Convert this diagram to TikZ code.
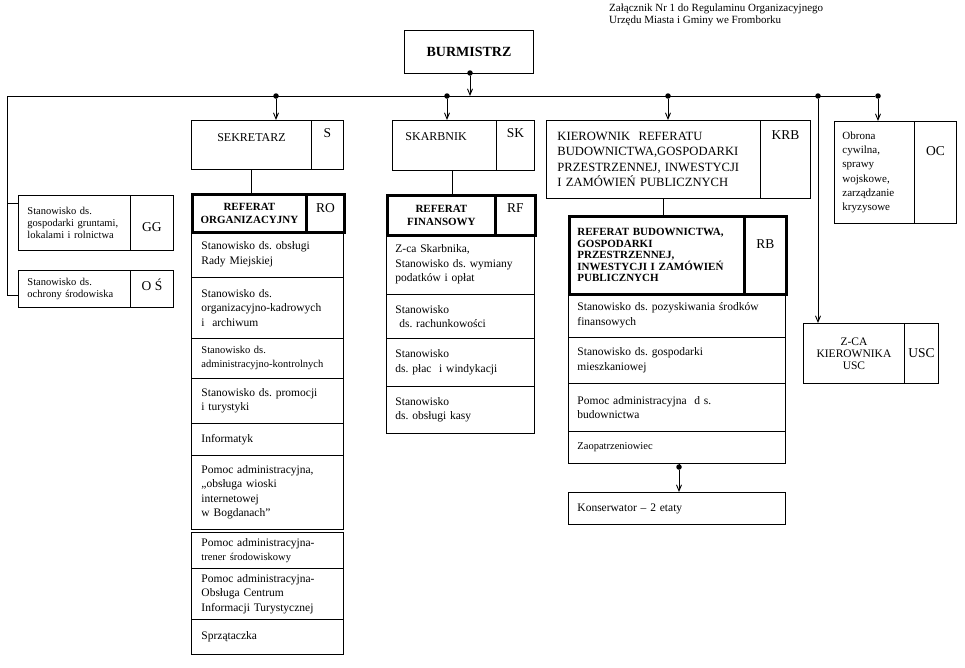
\documentclass[tikz,border=0pt]{standalone}
\usepackage{fontspec}
\setmainfont{Liberation Serif}
\usetikzlibrary{arrows.meta}
\newcommand{\fsz}[2]{\fontsize{#1}{#2}\selectfont}
\frenchspacing

\begin{document}
\begin{tikzpicture}[x=1pt,y=-1pt,
    frame/.style={draw,line width=0.9pt,anchor=north west,inner sep=0pt,align=center},
    code/.style={frame,font=\fsz{13.5}{15}},
    cell/.style={draw,line width=0.9pt,anchor=north west,inner ysep=0pt,align=left,font=\fsz{11.5}{14.5}},
    scell/.style={cell,inner xsep=10pt,text width=132pt},
    fcell/.style={cell,inner xsep=9pt,text width=130pt},
    bcell/.style={cell,inner xsep=9pt,text width=199pt},
    dot/.style={circle,fill,inner sep=0pt,minimum size=5.5pt},
    arr/.style={line width=0.9pt,-{Straight Barb[length=6pt,width=5pt]}},
    link/.style={line width=0.9pt}]
      \fill[white] (0,0) rectangle (965,667);%
      \useasboundingbox (0,0) rectangle (965,667);%

      \node[anchor=north west,inner sep=0pt,align=left,font=\fsz{11}{11.5}] (zal) at (609,4)
      {Załącznik Nr 1 do Regulaminu Organizacyjnego\\Urzędu Miasta i Gminy we Fromborku};%

      \node[frame,minimum width=129pt,minimum height=43pt,font=\bfseries\fsz{14}{16}] (bur) at (404,30) {BURMISTRZ};%

      \node[dot] (db) at (470,73) {};%
      \coordinate (lt) at (7,96);%
      \node[dot] (d1) at (276,96) {};%
      \node[dot] (d2) at (447,96) {};%
      \node[dot] (d3) at (668,96) {};%
      \node[dot] (d4) at (818,96) {};%
      \node[dot] (d5) at (878,96) {};%

      \node[cell,font=\fsz{10.5}{11.7},inner xsep=9pt,text width=94pt,minimum height=55pt] (gg) at (18,195)
      {Stanowisko ds.\\gospodarki gruntami,\\lokalami i rolnictwa};%
      \node[code,minimum width=43pt,minimum height=55pt,text height=36.5pt,text depth=18.5pt] (ggC) at (130,195) {GG};%
      \node[cell,font=\fsz{10.5}{11.7},inner xsep=9pt,text width=94pt,minimum height=37pt] (os) at (18,270)
      {Stanowisko ds.\\ochrony środowiska};%
      \node[code,minimum width=43pt,minimum height=37pt,text height=20.5pt,text depth=16.5pt] (osC) at (130,270) {O Ś};%
      \coordinate (ggIn) at (18,203);%
      \coordinate (osIn) at (18,295);%

      \node[frame,minimum width=120pt,minimum height=49pt,font=\fsz{12}{14},text height=21pt,text depth=28pt] (sek) at (191,120) {SEKRETARZ};%
      \node[code,minimum width=32pt,minimum height=49pt,text height=17.5pt,text depth=31.5pt] (sekC) at (311,120) {S};%
      \node[frame,line width=2.8pt,minimum width=114pt,minimum height=38pt,font=\bfseries\fsz{11}{13}] (ro) at (191,193) {REFERAT\\ORGANIZACYJNY};%
      \node[code,line width=2.8pt,minimum width=38pt,minimum height=38pt,text height=18.5pt,text depth=19.5pt] (roC) at (305,193) {RO};%

      \node[scell,minimum height=46pt] (s1) at (191,231) {Stanowisko ds. obsługi\\Rady Miejskiej};%
      \node[scell,minimum height=61pt] (s2) at (191,277) {Stanowisko ds.\\organizacyjno-kadrowych\\i~~archiwum};%
      \node[scell,minimum height=40pt,font=\fsz{10.5}{14}] (s3) at (191,338) {Stanowisko ds.\\administracyjno-kontrolnych};%
      \node[scell,minimum height=45pt] (s4) at (191,378) {Stanowisko ds. promocji\\i turystyki};%
      \node[scell,minimum height=32pt] (s5) at (191,423) {Informatyk};%
      \node[scell,minimum height=74pt] (s6) at (191,455) {Pomoc administracyjna,\\„obsługa wioski\\internetowej\\w Bogdanach”};%
      \node[scell,minimum height=36pt] (s7) at (191,532) {Pomoc administracyjna-\\{\fsz{10.5}{12}trener środowiskowy}};%
      \node[scell,minimum height=51pt] (s8) at (191,568) {Pomoc administracyjna-\\Obsługa Centrum\\Informacji Turystycznej};%
      \node[scell,minimum height=35pt] (s9) at (191,619) {Sprzątaczka};%

      \node[frame,minimum width=104pt,minimum height=50pt,font=\fsz{12}{14},align=left,inner xsep=13pt,text width=78pt,text height=20pt,text depth=30pt] (skb) at (392,120) {SKARBNIK};%
      \node[code,minimum width=38pt,minimum height=50pt,text height=17.5pt,text depth=32.5pt] (skbC) at (496,120) {SK};%
      \node[frame,line width=2.8pt,minimum width=108pt,minimum height=40pt,font=\bfseries\fsz{11}{13}] (rf) at (386,194) {REFERAT\\FINANSOWY};%
      \node[code,line width=2.8pt,minimum width=40pt,minimum height=40pt,text height=17.5pt,text depth=22.5pt] (rfC) at (494,194) {RF};%
      \coordinate (skbOut) at (452,170);%

      \node[fcell,minimum height=60pt] (f1) at (386,234) {Z-ca Skarbnika,\\Stanowisko ds. wymiany\\podatków i opłat};%
      \node[fcell,minimum height=44pt] (f2) at (386,294) {Stanowisko\\~ds. rachunkowości};%
      \node[fcell,minimum height=48pt] (f3) at (386,338) {Stanowisko\\ds. płac~~i windykacji};%
      \node[fcell,minimum height=47pt] (f4) at (386,386) {Stanowisko\\ds. obsługi kasy};%

      \node[frame,minimum width=214pt,minimum height=78pt,font=\fsz{12.6}{15.5},align=left,inner xsep=11pt,text width=192pt] (krb) at (546,120)
      {KIEROWNIK~~REFERATU\\BUDOWNICTWA,GOSPODARKI\\PRZESTRZENNEJ, INWESTYCJI\\I ZAMÓWIEŃ PUBLICZNYCH};%
      \node[code,minimum width=50pt,minimum height=78pt,text height=19.5pt,text depth=58.5pt] (krbC) at (760,120) {KRB};%
      \node[frame,line width=2.8pt,minimum width=175pt,minimum height=78pt,font=\bfseries\fsz{11}{11.5},align=left,inner xsep=8pt,text width=159pt] (rb) at (568,215)
      {REFERAT BUDOWNICTWA,\\GOSPODARKI\\PRZESTRZENNEJ,\\INWESTYCJI I ZAMÓWIEŃ\\PUBLICZNYCH};%
      \node[code,line width=2.8pt,minimum width=42pt,minimum height=78pt,text height=32.5pt,text depth=45.5pt] (rbC) at (743,215) {RB};%
      \coordinate (krbOut) at (663,198);%

      \node[bcell,minimum height=44pt] (b1) at (568,293) {Stanowisko ds. pozyskiwania środków\\finansowych};%
      \node[bcell,minimum height=46pt] (b2) at (568,337) {Stanowisko ds. gospodarki\\mieszkaniowej};%
      \node[bcell,minimum height=48pt] (b3) at (568,383) {Pomoc administracyjna~~d s.\\budownictwa};%
      \node[bcell,minimum height=32pt,font=\fsz{10.5}{12}] (b4) at (568,431) {Zaopatrzeniowiec};%
      \node[dot] (dk) at (679,467) {};%
      \node[bcell,minimum height=32pt] (kon) at (568,492) {Konserwator – 2 etaty};%

      \node[frame,minimum width=80pt,minimum height=102pt,font=\fsz{11}{14.3},align=left,inner xsep=8pt,text width=64pt] (oc) at (834,121)
      {Obrona\\cywilna,\\sprawy\\wojskowe,\\zarządzanie\\kryzysowe};%
      \node[code,minimum width=42pt,minimum height=102pt,text height=34.5pt,text depth=67.5pt] (ocC) at (914,121) {OC};%

      \node[frame,minimum width=101pt,minimum height=60pt,font=\fsz{11.5}{12}] (usc) at (803,323) {Z-CA\\KIEROWNIKA\\USC};%
      \node[code,minimum width=34pt,minimum height=60pt] (uscC) at (904,323) {USC};%

      \draw[link] (lt) -- (d5);%
      \draw[arr] (db) -- (db |- lt);%
      \draw[link] (lt) |- (osIn);%
      \draw[link] (lt |- ggIn) -- (ggIn);%
      \draw[arr] (d1) -- (d1 |- sek.north);%
      \draw[arr] (d2) -- (d2 |- skb.north);%
      \draw[arr] (d3) -- (d3 |- krb.north);%
      \draw[arr] (d4) -- (d4 |- usc.north);%
      \draw[arr] (d5) -- (d5 |- oc.north);%
      \draw[link] (sek.south) -- (sek.south |- ro.north);%
      \draw[link] (skbOut) -- (skbOut |- rf.north);%
      \draw[link] (krbOut) -- (krbOut |- rb.north);%
      \draw[link] (b4.south -| dk) -- (dk);%
      \draw[arr] (dk) -- (dk |- kon.north);%
\end{tikzpicture}
\end{document}
